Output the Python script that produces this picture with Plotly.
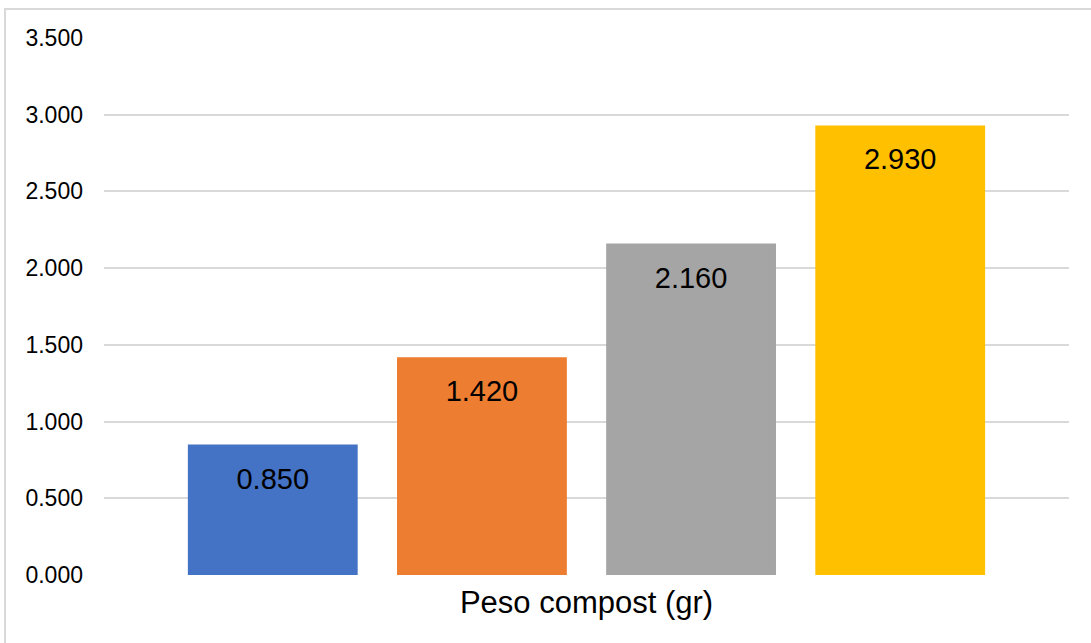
import plotly.graph_objects as go

category_label = "Peso compost (gr)"
series_positions = [0, 1, 2, 3]
values = [0.850, 1.420, 2.160, 2.930]
value_labels = ["0.850", "1.420", "2.160", "2.930"]
bar_colors = ["#4472C4", "#ED7D31", "#A5A5A5", "#FFC000"]
y_ticks = [0, 0.5, 1.0, 1.5, 2.0, 2.5, 3.0, 3.5]
y_tick_labels = ["0.000", "0.500", "1.000", "1.500", "2.000", "2.500", "3.000", "3.500"]

FONT = "Liberation Sans, Arial, sans-serif"

fig = go.Figure()
fig.add_trace(go.Bar(
    x=series_positions, y=values, width=0.812,
    marker=dict(color=bar_colors, line=dict(width=0)),
    hoverinfo="skip", showlegend=False,
))
fig.add_trace(go.Scatter(
    x=series_positions, y=values, mode="markers+text", text=value_labels,
    textposition="bottom center",
    marker=dict(size=34, opacity=0),
    textfont=dict(family=FONT, size=29, color="#000000"),
    showlegend=False, hoverinfo="skip",
))

fig.update_layout(
    width=1091, height=643,
    margin=dict(l=104, r=22, t=38, b=68),
    paper_bgcolor="white", plot_bgcolor="white",
    font=dict(family=FONT, color="#000000"),
    xaxis=dict(
        range=[-0.807, 3.807], tickvals=[1.5], ticktext=[category_label],
        showgrid=False, zeroline=False, showline=False, ticks="",
        tickfont=dict(family=FONT, size=31, color="#000000"),
        ticklabelstandoff=6, fixedrange=True,
    ),
    yaxis=dict(
        range=[0, 3.5], tickvals=y_ticks, ticktext=y_tick_labels,
        showgrid=True, gridcolor="#D9D9D9", gridwidth=1.5,
        zeroline=False, showline=False, ticks="",
        tickfont=dict(family=FONT, size=23, color="#000000"),
        ticklabelstandoff=20, fixedrange=True,
    ),
    shapes=[dict(
        type="rect", xref="paper", yref="paper",
        x0=(5 - 104) / 965, x1=(1100 - 104) / 965,
        y0=(575 - 650) / 537, y1=(575 - 9) / 537,
        line=dict(color="#D9D9D9", width=2), fillcolor="rgba(0,0,0,0)",
        layer="below",
    )],
)

fig.write_html("out.html")
